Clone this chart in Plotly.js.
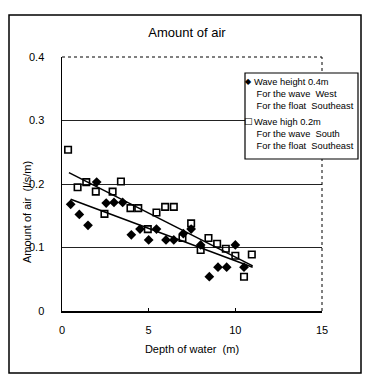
<!DOCTYPE html>
<html>
<head>
<meta charset="utf-8">
<script src="https://cdn.plot.ly/plotly-3.0.1.min.js"></script>
<style>html,body{margin:0;padding:0;background:#fff;}#chart{width:368px;height:374px;}</style>
</head>
<body>
<div id="chart"></div>
<script>
// Wave height 0.4m (filled diamonds)
const depthH04 = [0.5, 1.0, 1.5, 2.0, 2.55, 3.0, 3.5, 4.0, 4.5, 5.0, 5.45, 6.0, 6.45, 7.0, 7.45, 8.0, 8.5, 9.0, 9.5, 10.0, 10.5];
const airH04   = [0.168, 0.152, 0.135, 0.203, 0.170, 0.171, 0.171, 0.120, 0.129, 0.112, 0.129, 0.112, 0.112, 0.122, 0.129, 0.104, 0.054, 0.069, 0.069, 0.104, 0.069];
// Wave height 0.2m (open squares)
const depthH02 = [0.35, 0.9, 1.4, 1.95, 2.45, 2.92, 3.4, 3.95, 4.4, 4.95, 5.45, 5.95, 6.45, 6.95, 7.45, 8.0, 8.45, 8.95, 9.45, 10.0, 10.5, 10.95];
const airH02   = [0.254, 0.195, 0.203, 0.188, 0.153, 0.188, 0.204, 0.162, 0.162, 0.129, 0.155, 0.164, 0.164, 0.115, 0.138, 0.096, 0.115, 0.106, 0.098, 0.087, 0.054, 0.089];
// Trend lines (end points)
const trendH04X = [0.5, 11.0];
const trendH04Y = [0.176, 0.069];
const trendH02X = [0.4, 11.0];
const trendH02Y = [0.218, 0.071];
// Axis ticks
const xTicks = [0, 5, 10, 15];
const xTickText = ['0', '5', '10', '15'];
const yTicks = [0, 0.1, 0.2, 0.3, 0.4];
const yTickText = ['0', '0.1', '0.2', '0.3', '0.4'];
// Texts
const titleText = 'Amount of air';
const xTitle = 'Depth of water  (m)';
const yTitle = 'Amount of air  (l/s/m)';
const legendH04 = ['Wave height 0.4m', 'For the wave  West', 'For the float  Southeast'];
const legendH02 = ['Wave high 0.2m', 'For the wave  South', 'For the float  Southeast'];

const FONT = 'Liberation Sans Narrow, Arial Narrow, Liberation Sans, Arial, sans-serif';
const nb = s => s.replace(/ /g, '\u00a0');

const traces = [
  {x: trendH04X, y: trendH04Y, mode: 'lines', line: {color: '#000', width: 1.5}, hoverinfo: 'skip'},
  {x: trendH02X, y: trendH02Y, mode: 'lines', line: {color: '#000', width: 1.5}, hoverinfo: 'skip'},
  {x: depthH04, y: airH04, mode: 'markers', name: legendH04.join('<br>'),
   marker: {symbol: 'diamond', size: 7.5, color: '#000'}},
  {x: depthH02, y: airH02, mode: 'markers', name: legendH02.join('<br>'),
   marker: {symbol: 'square-open', size: 6.5, color: '#000', line: {width: 1.6, color: '#000'}}}
];

// plot area: x 62..322 px, y 57..311 px
const px = v => (v - 62) / 260;
const py = v => (311 - v) / 254;

const layout = {
  width: 368, height: 374,
  margin: {l: 62, r: 46, t: 57, b: 63},
  paper_bgcolor: '#fff', plot_bgcolor: '#fff',
  showlegend: false,
  font: {family: FONT, color: '#000', size: 11},
  title: {text: titleText, font: {family: FONT, size: 13, color: '#000'},
          x: 187 / 368, xref: 'container', xanchor: 'center', y: 1 - 32 / 374, yref: 'container', yanchor: 'middle'},
  xaxis: {
    range: [0, 15], tickvals: xTicks, ticktext: xTickText, showgrid: false, zeroline: false,
    showline: true, linecolor: '#000', linewidth: 1.5, ticks: 'inside', ticklen: 3, tickcolor: '#000',
    ticklabelstandoff: 8, tickfont: {family: FONT, size: 11, color: '#000'},
    title: {text: xTitle, font: {family: FONT, size: 11, color: '#000'}, standoff: 10}
  },
  yaxis: {
    range: [0, 0.4], tickvals: yTicks, ticktext: yTickText, showgrid: true, gridcolor: '#222', gridwidth: 1,
    zeroline: false, showline: true, linecolor: '#000', linewidth: 1.5, ticks: '',
    ticklabelstandoff: 14, tickfont: {family: FONT, size: 11, color: '#000'}
  },
  shapes: [
    // outer frame
    {type: 'rect', xref: 'paper', yref: 'paper', x0: px(9), x1: px(361), y0: py(373), y1: py(15),
     line: {color: '#000', width: 1.5}},
    // dotted top / right plot border
    {type: 'line', xref: 'paper', yref: 'paper', x0: 0, x1: 1, y0: 1, y1: 1, line: {color: '#000', width: 1, dash: 'dot'}},
    {type: 'line', xref: 'paper', yref: 'paper', x0: 1, x1: 1, y0: 0, y1: 1, line: {color: '#000', width: 1, dash: 'dot'}},
    // legend box
    {type: 'rect', xref: 'paper', yref: 'paper', x0: px(245), x1: px(358), y0: py(159), y1: py(73),
     line: {color: '#000', width: 1.2}, fillcolor: '#fff', layer: 'above'}
  ],
  annotations: [
    {text: yTitle, textangle: -90, xref: 'paper', yref: 'paper', x: px(27), y: py(212),
     xanchor: 'center', yanchor: 'middle', showarrow: false, font: {family: FONT, size: 11, color: '#000'}},
    {text: '\u25C6', xref: 'paper', yref: 'paper', x: px(248.5), y: py(81), xanchor: 'center', yanchor: 'middle',
     showarrow: false, font: {family: 'DejaVu Sans', size: 8, color: '#000'}},
    {text: '\u25A1', xref: 'paper', yref: 'paper', x: px(248.5), y: py(121), xanchor: 'center', yanchor: 'middle',
     showarrow: false, font: {family: 'DejaVu Sans', size: 9, color: '#000'}},
    {text: nb(legendH04[0]) + '<br>' + nb(' ' + legendH04[1]) + '<br>' + nb(' ' + legendH04[2]),
     xref: 'paper', yref: 'paper', x: px(252), y: py(93.5), xanchor: 'left', yanchor: 'middle', align: 'left',
     showarrow: false, font: {family: FONT, size: 9.3, color: '#000'}},
    {text: nb(legendH02[0]) + '<br>' + nb(' ' + legendH02[1]) + '<br>' + nb(' ' + legendH02[2]),
     xref: 'paper', yref: 'paper', x: px(252), y: py(133.5), xanchor: 'left', yanchor: 'middle', align: 'left',
     showarrow: false, font: {family: FONT, size: 9.3, color: '#000'}}
  ]
};

Plotly.newPlot('chart', traces, layout, {staticPlot: true, displayModeBar: false});
</script>
</body>
</html>
